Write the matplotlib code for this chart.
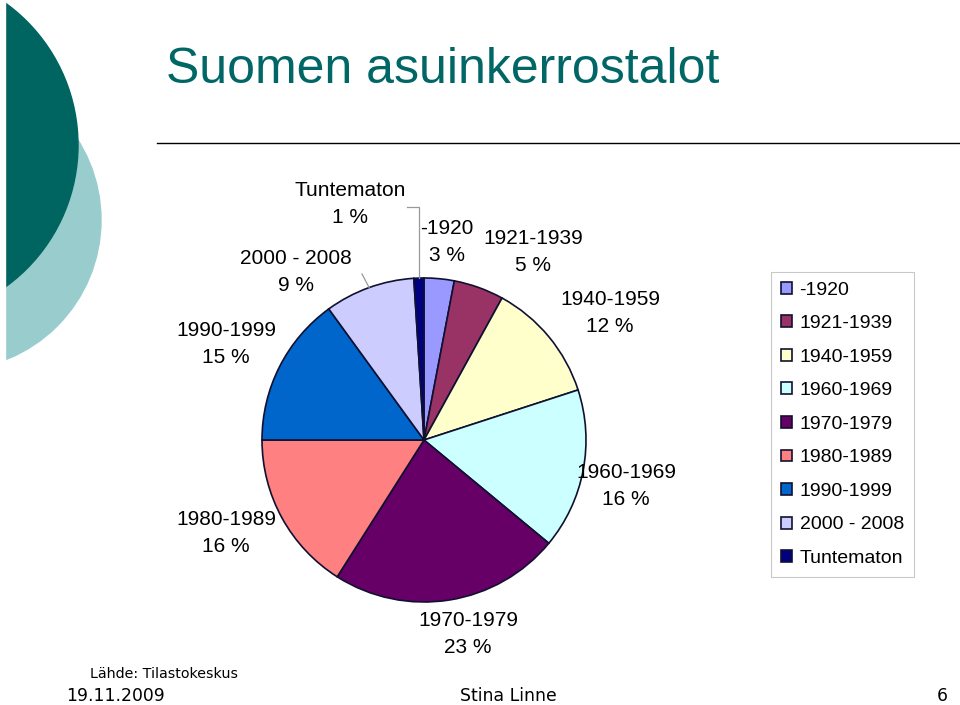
import matplotlib
matplotlib.use('Agg')
import matplotlib.pyplot as plt
from matplotlib.patches import Circle
import numpy as np

plt.rcParams['font.family'] = ['Liberation Sans', 'DejaVu Sans']

# data
periods = ['-1920', '1921-1939', '1940-1959', '1960-1969', '1970-1979',
           '1980-1989', '1990-1999', '2000 - 2008', 'Tuntematon']
shares = [3, 5, 12, 16, 23, 16, 15, 9, 1]
colors = ['#9999FF', '#993366', '#FFFFCC', '#CCFFFF', '#660066',
          '#FF8080', '#0066CC', '#CCCCFF', '#000080']

# label text centres (pixels from top-left of slide)
label_pos = [(447, 242), (533, 252), (610, 313), (626, 486), (468, 634),
             (226, 533), (226, 344), (296, 272), (350, 204)]

W, H = 960, 705
fig = plt.figure(figsize=(9.6, 7.05), dpi=100)
ax = fig.add_axes([0, 0, 1, 1])

# decorative circles
ax.add_patch(Circle((-49, H - 220), 150, color='#99CCCC', zorder=1))
ax.add_patch(Circle((-97, H - 145), 175, color='#006461', zorder=2))
ax.axvspan(0, 5, color='white', zorder=3)

# title + rule
ax.text(166, H - 70, 'Suomen asuinkerrostalot', fontsize=36, color='#006666',
        va='center', ha='left')
ax.plot([157, W], [H - 143, H - 143], color='black', lw=1)

# pie
cx, cy, R = 424, H - 440, 162
wedges, _ = ax.pie(shares, colors=colors, startangle=90, counterclock=False,
                   center=(cx, cy), radius=R,
                   wedgeprops=dict(edgecolor='#101030', linewidth=1.2))

for (lx, ly), name, v in zip(label_pos, periods, shares):
    ax.text(lx, H - ly, '%s\n%d %%' % (name, v), ha='center', va='center',
            fontsize=15, linespacing=1.55)

# leader lines for the two small slices at the top
for w, kind in zip(wedges[-2:], ['diag', 'elbow']):
    a = np.radians((w.theta1 + w.theta2) / 2)
    px, py = cx + R * np.cos(a), cy + R * np.sin(a)
    if kind == 'elbow':
        ax.plot([px, px, 407], [py, H - 207, H - 207], color='#999999', lw=0.9)
    else:
        ax.plot([px, 362], [py, H - 274], color='#999999', lw=0.9)

leg = ax.legend(wedges, periods, loc='upper left',
                bbox_to_anchor=(771 / W, 1 - 272 / H), bbox_transform=fig.transFigure,
                borderaxespad=0, fontsize=14, frameon=True, fancybox=False,
                edgecolor='#BBBBBB', handlelength=0.57, handleheight=0.57,
                handletextpad=0.4, labelspacing=0.85, borderpad=0.5)
leg.get_frame().set_linewidth(0.8)

# footer
ax.text(90, H - 674, 'Lähde: Tilastokeskus', fontsize=10.3, family='DejaVu Sans', va='center')
ax.text(66, H - 696, '19.11.2009', fontsize=12.4, family='DejaVu Sans', va='center')
ax.text(508, H - 696, 'Stina Linne', fontsize=12.4, family='DejaVu Sans', va='center', ha='center')
ax.text(942, H - 696, '6', fontsize=12.4, family='DejaVu Sans', va='center', ha='center')

ax.set_xlim(0, W)
ax.set_ylim(0, H)
ax.set_aspect('auto')
ax.axis('off')

fig.savefig('out.png', dpi=100)
